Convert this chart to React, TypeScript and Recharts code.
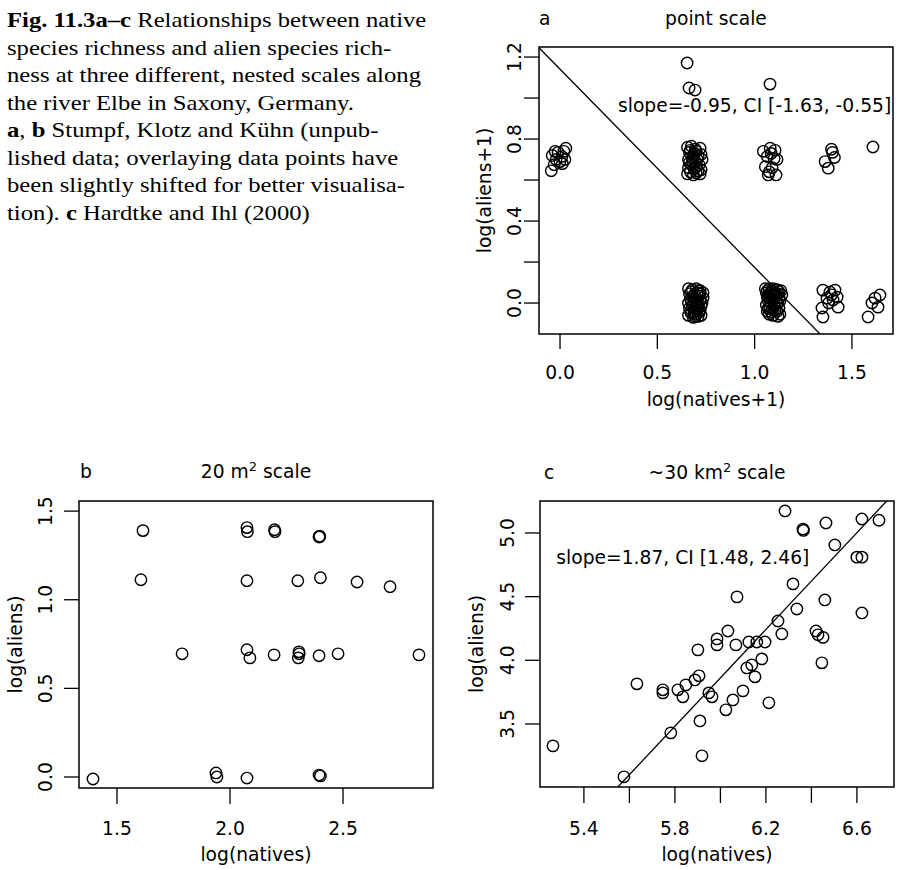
import React from 'react';
import { ScatterChart, Scatter, XAxis, YAxis, ReferenceArea, ReferenceLine } from 'recharts';

const SANS = '"DejaVu Sans", sans-serif';
const SERIF = '"Liberation Serif", serif';
const FS = 18.7;

// a: point scale, log(natives+1) vs log(aliens+1)
const pointTop: [number, number][] = [
  [0.653, 1.171], [0.663, 1.049], [0.694, 1.039], [1.079, 1.068], [1.608, 0.761],
  [-0.045, 0.645], [-0.03, 0.675], [-0.02, 0.7], [-0.04, 0.72], [0.0, 0.69], [0.01, 0.715],
  [0.02, 0.74], [0.03, 0.755], [-0.01, 0.735], [0.025, 0.7], [-0.025, 0.74], [0.012, 0.68],
  [0.655, 0.76], [0.675, 0.765], [0.72, 0.755], [0.7, 0.74], [0.665, 0.735], [0.685, 0.72],
  [0.71, 0.715], [0.73, 0.7], [0.66, 0.7], [0.695, 0.69], [0.675, 0.675], [0.715, 0.675],
  [0.66, 0.66], [0.69, 0.655], [0.725, 0.65], [0.67, 0.64], [0.7, 0.635], [0.685, 0.625],
  [0.72, 0.63], [0.655, 0.63], [0.705, 0.7], [0.68, 0.705], [0.67, 0.745], [0.725, 0.725],
  [0.69, 0.73], [0.7, 0.665], [0.68, 0.69], [0.71, 0.645], [0.665, 0.685], [0.695, 0.75],
  [1.045, 0.74], [1.08, 0.755], [1.105, 0.745], [1.065, 0.715], [1.1, 0.705], [1.115, 0.7],
  [1.055, 0.665], [1.09, 0.66], [1.075, 0.64], [1.11, 0.625], [1.07, 0.625], [1.085, 0.73],
  [1.395, 0.75], [1.41, 0.71], [1.362, 0.69], [1.378, 0.658], [1.4, 0.735],
];
const pointBottom: [number, number][] = [
  [0.66, 0.07], [0.68, 0.065], [0.7, 0.07], [0.72, 0.06], [0.735, 0.05], [0.665, 0.045],
  [0.69, 0.04], [0.715, 0.035], [0.67, 0.02], [0.695, 0.015], [0.72, 0.01], [0.735, 0.025],
  [0.66, 0.0], [0.685, -0.005], [0.71, -0.01], [0.73, 0.0], [0.665, -0.025], [0.695, -0.03],
  [0.72, -0.035], [0.675, -0.05], [0.7, -0.055], [0.725, -0.06], [0.66, -0.06], [0.685, -0.07],
  [0.71, -0.065], [0.68, 0.03], [0.705, 0.05], [0.725, -0.015], [0.67, -0.04], [0.7, 0.0],
  [0.675, 0.055], [0.71, 0.06], [0.69, 0.025], [0.705, -0.02], [0.68, -0.02], [0.715, -0.045],
  [0.69, -0.045], [0.675, 0.005], [0.72, 0.045], [0.695, -0.065],
  [1.055, 0.07], [1.075, 0.07], [1.095, 0.07], [1.115, 0.065], [1.135, 0.06], [1.06, 0.05],
  [1.08, 0.05], [1.1, 0.055], [1.12, 0.045], [1.14, 0.04], [1.065, 0.03], [1.085, 0.035],
  [1.105, 0.03], [1.125, 0.025], [1.07, 0.01], [1.09, 0.015], [1.11, 0.005], [1.13, 0.01],
  [1.06, -0.01], [1.08, -0.02], [1.1, -0.015], [1.065, -0.04], [1.085, -0.045], [1.115, -0.04],
  [1.13, -0.055], [1.095, -0.06], [1.075, -0.055], [1.12, -0.065],
  [1.065, 0.06], [1.09, 0.06], [1.125, 0.055], [1.07, 0.04], [1.11, 0.045], [1.095, 0.04],
  [1.075, 0.025], [1.1, 0.02], [1.12, 0.0], [1.085, 0.0], [1.07, -0.025], [1.105, -0.035],
  [1.125, -0.025], [1.09, -0.03],
  [1.351, 0.063], [1.387, 0.054], [1.413, 0.063], [1.372, 0.024], [1.403, 0.015], [1.429, -0.02],
  [1.346, -0.024], [1.351, -0.068], [1.424, 0.029], [1.395, 0.04], [1.38, 0.0],
  [1.644, 0.039], [1.619, 0.024], [1.603, 0.0], [1.634, -0.02], [1.583, -0.068],
];
const pointFit = [{ x: -0.108, y: 1.245 }, { x: 1.336, y: -0.151 }];
const pointXTicks = [0, 0.5, 1.0, 1.5];
const pointYTicks = [0, 0.2, 0.4, 0.6, 0.8, 1.0, 1.2];
const pointYLabels = [0, 0.4, 0.8, 1.2];

// b: 20 m2 scale
const plotPts: [number, number][] = [
  [1.615, 1.39], [1.606, 1.113], [2.075, 1.407], [2.077, 1.384], [2.197, 1.395], [2.199, 1.384],
  [2.394, 1.356], [2.397, 1.358], [2.395, 1.354], [2.075, 1.107], [2.3, 1.107], [2.4, 1.124],
  [2.562, 1.1], [2.708, 1.073], [1.788, 0.695], [2.075, 0.718], [2.088, 0.672], [2.195, 0.689],
  [2.305, 0.706], [2.306, 0.695], [2.302, 0.672], [2.394, 0.684], [2.478, 0.695], [2.836, 0.689],
  [1.394, -0.011], [1.938, 0.023], [1.942, 0.0], [2.075, -0.006], [2.394, 0.011], [2.4, 0.006],
];
const plotXTicks = [1.5, 2.0, 2.5];
const plotYTicks = [0, 0.5, 1.0, 1.5];

// c: ~30 km2 scale
const gridPts: [number, number][] = [
  [6.284, 5.173], [6.363, 5.03], [6.365, 5.02], [6.464, 5.078], [6.622, 5.11], [6.697, 5.1],
  [6.503, 4.906], [6.6, 4.81], [6.622, 4.81], [6.319, 4.6], [6.073, 4.498], [6.459, 4.474],
  [6.336, 4.403], [6.622, 4.372], [6.253, 4.309], [6.27, 4.207], [6.033, 4.23], [6.42, 4.23],
  [6.429, 4.2], [6.451, 4.18], [5.985, 4.168], [5.985, 4.121], [6.068, 4.121], [6.125, 4.144],
  [6.16, 4.144], [6.196, 4.144], [6.446, 3.98], [5.901, 4.082], [6.182, 4.011], [6.138, 3.964],
  [6.116, 3.94], [6.152, 3.87], [5.906, 3.878], [5.888, 3.846], [5.848, 3.807], [5.813, 3.768],
  [5.835, 3.713], [5.747, 3.768], [5.747, 3.744], [5.633, 3.815], [5.949, 3.744], [5.963, 3.713],
  [6.099, 3.76], [6.055, 3.689], [6.024, 3.611], [6.213, 3.666], [5.91, 3.524], [5.782, 3.43],
  [5.919, 3.25], [5.264, 3.328], [5.576, 3.085],
];
const gridFit = [{ x: 5.549, y: 3.005 }, { x: 6.731, y: 5.251 }];
const gridXTicks = [5.4, 5.6, 5.8, 6.0, 6.2, 6.4, 6.6];
const gridXLabels = [5.4, 5.8, 6.2, 6.6];
const gridYTicks = [3.5, 4.0, 4.5, 5.0];

const notes = [
  { panel: 'a', x: 1.0, y: 0.966, text: 'slope=-0.95, CI [-1.63, -0.55]' },
  { panel: 'c', x: 5.835, y: 4.81, text: 'slope=1.87, CI [1.48, 2.46]' },
];

const caption: [string, boolean][][] = [
  [['Fig. 11.3a–c', true], [' Relationships between native', false]],
  [['species richness and alien species rich-', false]],
  [['ness at three different, nested scales along', false]],
  [['the river Elbe in Saxony, Germany.', false]],
  [['a', true], [', ', false], ['b', true], [' Stumpf, Klotz and Kühn (unpub-', false]],
  [['lished data; overlaying data points have', false]],
  [['been slightly shifted for better visualisa-', false]],
  [['tion). ', false], ['c', true], [' Hardtke and Ihl (2000)', false]],
];

const toXY = (pts: [number, number][]) => pts.map(([x, y]) => ({ x, y }));

const ring = (p: any) => (
  <circle cx={p.cx} cy={p.cy} r={5.7} fill="none" stroke="#000" strokeWidth={1.45} />
);

const bottomTick = (labels: number[], off: number) => (p: any) =>
  labels.includes(p.payload.value) ? (
    <text x={p.x} y={p.y + off} textAnchor="middle" fontFamily={SANS} fontSize={FS} fill="#000">
      {p.payload.value.toFixed(1)}
    </text>
  ) : <g />;

const leftTick = (labels: number[], gap: number) => (p: any) => {
  if (!labels.includes(p.payload.value)) return <g />;
  const cx = p.x - gap;
  return (
    <text x={cx} y={p.y} dy="0.36em" transform={`rotate(-90 ${cx} ${p.y})`} textAnchor="middle"
      fontFamily={SANS} fontSize={FS} fill="#000">
      {p.payload.value.toFixed(1)}
    </text>
  );
};

const noteShape = (text: string) => (p: any) => (
  <text x={p.cx} y={p.cy} dy="0.36em" textAnchor="middle" fontFamily={SANS} fontSize={FS} fill="#000">{text}</text>
);

interface PanelProps {
  left: number; top: number; width: number; height: number;
  margin: { top: number; right: number; bottom: number; left: number };
  yWidth: number; xHeight: number;
  xDomain: [number, number]; yDomain: [number, number];
  xTicks: number[]; xLabels: number[]; yTicks: number[]; yLabels: number[];
  xTickLen: number; xOff: number; yGap: number;
  series: { x: number; y: number }[][];
  fit?: { x: number; y: number }[];
  note?: { x: number; y: number; text: string };
}

const Panel: React.FC<PanelProps> = (pp) => (
  <div style={{ position: 'absolute', left: pp.left, top: pp.top }}>
    <ScatterChart width={pp.width} height={pp.height} margin={pp.margin}>
      <XAxis type="number" dataKey="x" domain={pp.xDomain} allowDataOverflow ticks={pp.xTicks}
        interval={0} axisLine={false} tickLine={{ stroke: '#000', strokeWidth: 1.3 }}
        tickSize={pp.xTickLen} tickMargin={0} height={pp.xHeight}
        tick={bottomTick(pp.xLabels, pp.xOff)} />
      <YAxis type="number" dataKey="y" domain={pp.yDomain} allowDataOverflow ticks={pp.yTicks}
        interval={0} axisLine={false} tickLine={{ stroke: '#000', strokeWidth: 1.3 }}
        tickSize={15} tickMargin={0} width={pp.yWidth}
        tick={leftTick(pp.yLabels, pp.yGap)} />
      {pp.series.map((d, i) => (
        <Scatter key={i} data={d} shape={ring} isAnimationActive={false} />
      ))}
      {pp.fit && (
        <ReferenceLine segment={pp.fit} stroke="#000" strokeWidth={1.3} ifOverflow="hidden" />
      )}
      {pp.note && (
        <Scatter data={[{ x: pp.note.x, y: pp.note.y }]} shape={noteShape(pp.note.text)} isAnimationActive={false} />
      )}
      <ReferenceArea x1={pp.xDomain[0]} x2={pp.xDomain[1]} y1={pp.yDomain[0]} y2={pp.yDomain[1]}
        fill="none" fillOpacity={0} stroke="#000" strokeWidth={1.5} ifOverflow="visible" />
    </ScatterChart>
  </div>
);

const txt = { fontFamily: SANS, fontSize: FS, fill: '#000' };

const App: React.FC = () => (
  <div style={{ position: 'absolute', left: 0, top: 0, width: 897, height: 870, background: '#fff', overflow: 'hidden' }}>
    <Panel left={480} top={0} width={417} height={430}
      margin={{ top: 47, right: 4, bottom: 0, left: 0 }} yWidth={59} xHeight={96}
      xDomain={[-0.108, 1.711]} yDomain={[-0.151, 1.249]}
      xTicks={pointXTicks} xLabels={pointXTicks} yTicks={pointYTicks} yLabels={pointYLabels}
      xTickLen={15} xOff={30} yGap={9.5}
      series={[toXY(pointTop), toXY(pointBottom)]} fit={pointFit} note={notes[0]} />
    <Panel left={0} top={440} width={450} height={430}
      margin={{ top: 61, right: 17, bottom: 0, left: 0 }} yWidth={79} xHeight={82}
      xDomain={[1.332, 2.898]} yDomain={[-0.062, 1.557]}
      xTicks={plotXTicks} xLabels={plotXTicks} yTicks={plotYTicks} yLabels={plotYTicks}
      xTickLen={16} xOff={31} yGap={18.5}
      series={[toXY(plotPts)]} />
    <Panel left={450} top={440} width={447} height={430}
      margin={{ top: 61, right: 3, bottom: 0, left: 0 }} yWidth={90} xHeight={83}
      xDomain={[5.207, 6.763]} yDomain={[3.005, 5.251]}
      xTicks={gridXTicks} xLabels={gridXLabels} yTicks={gridYTicks} yLabels={gridYTicks}
      xTickLen={16} xOff={32} yGap={17.5}
      series={[toXY(gridPts)]} fit={gridFit} note={notes[1]} />

    <svg width={897} height={870} style={{ position: 'absolute', left: 0, top: 0, pointerEvents: 'none' }}>
      {caption.map((line, i) => (
        <text key={i} transform={`translate(7 ${27.3 + i * 27.5}) scale(1.175 1)`}
          fontFamily={SERIF} fontSize={21} fill="#000">
          {line.map(([s, b], j) => (
            <tspan key={j} fontWeight={b ? 'bold' : 'normal'}>{s}</tspan>
          ))}
        </text>
      ))}

      <text x={539} y={25} {...txt}>a</text>
      <text x={716} y={25} textAnchor="middle" {...txt}>point scale</text>
      <text x={716} y={406} textAnchor="middle" {...txt}>log(natives+1)</text>
      <text x={491} y={190.5} transform="rotate(-90 491 190.5)" textAnchor="middle" {...txt}>log(aliens+1)</text>

      <text x={80} y={478} {...txt}>b</text>
      <text x={256} y={478} textAnchor="middle" {...txt}>
        20 m<tspan dy={-7} fontSize={13}>2</tspan><tspan dy={7}> scale</tspan>
      </text>
      <text x={256} y={861} textAnchor="middle" {...txt}>log(natives)</text>
      <text x={21.5} y={644.5} transform="rotate(-90 21.5 644.5)" textAnchor="middle" {...txt}>log(aliens)</text>

      <text x={544} y={479} {...txt}>c</text>
      <text x={717} y={479} textAnchor="middle" {...txt}>
        ~30 km<tspan dy={-7} fontSize={13}>2</tspan><tspan dy={7}> scale</tspan>
      </text>
      <text x={717} y={861} textAnchor="middle" {...txt}>log(natives)</text>
      <text x={483} y={644} transform="rotate(-90 483 644)" textAnchor="middle" {...txt}>log(aliens)</text>
    </svg>
  </div>
);

export default App;
